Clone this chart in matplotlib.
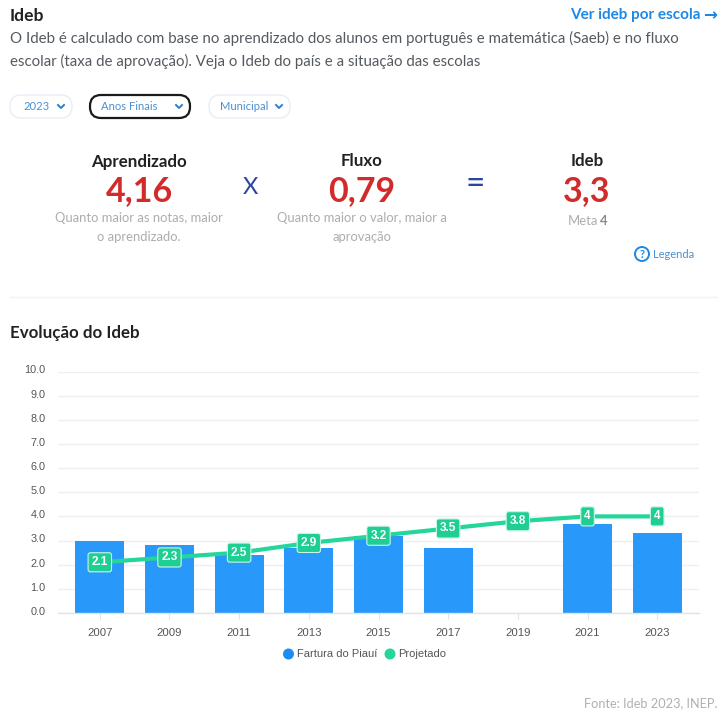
import matplotlib
matplotlib.use('Agg')
import matplotlib.pyplot as plt
from matplotlib.patches import FancyBboxPatch, Circle
from matplotlib.transforms import ScaledTranslation

# chart data
years = ['2007', '2009', '2011', '2013', '2015', '2017', '2019', '2021', '2023']
ideb = [3.0, 2.8, 2.4, 2.7, 3.2, 2.7, None, 3.7, 3.3]
projetado = [2.1, 2.3, 2.5, 2.9, 3.2, 3.5, 3.8, 4.0, 4.0]
projetado_labels = ['2.1', '2.3', '2.5', '2.9', '3.2', '3.5', '3.8', '4', '4']
y_ticks = [0, 1, 2, 3, 4, 5, 6, 7, 8, 9, 10]

# summary block
summary_titles = ['Aprendizado', 'Fluxo', 'Ideb']
summary_values = ['4,16', '0,79', '3,3']
filters = ['2023', 'Anos Finais', 'Municipal']

BLUE = '#2898fa'
GREEN = '#24d69a'
LINK = '#1e88e5'
RED = '#d22b2b'
NAVY = '#2b479c'
GREY = '#adadad'
TEXT = '#555a60'

W, H = 718, 711
plt.rcParams['font.family'] = ['Lato', 'DejaVu Sans']
fig = plt.figure(figsize=(W / 100, H / 100), dpi=100, facecolor='white')

# overlay in pixel coordinates for the page around the chart
page = fig.add_axes([0, 0, 1, 1])
page.set_xlim(0, W)
page.set_ylim(H, 0)
page.axis('off')

page.text(10, 16, 'Ideb', fontsize=12.6, fontweight='bold', color='#222222', va='center')
page.text(701, 15, 'Ver ideb por escola', fontsize=11, fontweight='bold', color=LINK, va='center', ha='right')
page.text(717, 15, '→', fontsize=12, fontweight='bold', color=LINK, va='center', ha='right', family='DejaVu Sans')
page.text(10, 38, 'O Ideb é calculado com base no aprendizado dos alunos em português e matemática (Saeb) e no fluxo',
          fontsize=10.78, color=TEXT, va='center')
page.text(10, 61, 'escolar (taxa de aprovação). Veja o Ideb do país e a situação das escolas',
          fontsize=10.78, color=TEXT, va='center')

# dropdowns
boxes = [(10, 72), (90, 190), (209, 290)]
text_pad = [13, 11, 11]
for (x0, x1), name, pad in zip(boxes, filters, text_pad):
    active = name == 'Anos Finais'
    page.add_patch(FancyBboxPatch((x0 + 11, 95 + 11), x1 - x0 - 22, 1, boxstyle='round,pad=11,rounding_size=11',
                                  fc='white', ec='#1a1a1a' if active else '#e6eef6', lw=1.6 if active else 1))
    page.text(x0 + pad, 106.5, name, fontsize=8.1, color='#4a90d0', va='center')
    page.plot([x1 - 14, x1 - 11, x1 - 8], [105, 108, 105], color='#2a7fd0', lw=1.4)

# formula row
centres = [139, 362, 587]
notes = [('Quanto maior as notas, maior', 'o aprendizado.'), ('Quanto maior o valor, maior a', 'aprovação'), ('', '')]
for cx, title, val, note in zip(centres, summary_titles, summary_values, notes):
    page.text(cx, 161.5, title, fontsize=12.2, fontweight='bold', color='#222222', ha='center', va='center')
    page.text(cx, 191, val, fontsize=24.5, fontweight='bold', color=RED, ha='center', va='center')
    page.text(cx, 218, note[0], fontsize=9.4, color=GREY, ha='center', va='center')
    page.text(cx, 237, note[1], fontsize=9.4, color=GREY, ha='center', va='center')
page.text(568, 221, 'Meta', fontsize=9.4, color=GREY, va='center')
page.text(600, 221, '4', fontsize=9.4, fontweight='bold', color='#8a8a8a', va='center')
page.text(250, 187, 'X', fontsize=17, color=NAVY, ha='center', va='center')
page.text(475, 184, '=', fontsize=24, color=NAVY, ha='center', va='center')

page.add_patch(Circle((642, 254), 7, fc='white', ec=LINK, lw=1.4))
page.text(642, 254, '?', fontsize=8, fontweight='bold', color=LINK, ha='center', va='center')
page.text(653, 254, 'Legenda', fontsize=8, color='#4a90d0', va='center')

page.plot([10, 718], [297, 297], color='#f2f2f2', lw=1)
page.text(10, 333, 'Evolução do Ideb', fontsize=12.2, fontweight='bold', color='#222222', va='center')
page.text(717, 703, 'Fonte: Ideb 2023, INEP.', fontsize=9.2, color='#b0b0b0', ha='right', va='center')

# chart axes, x 58-699 px and y 372-613 px
ax = fig.add_axes([58 / W, 1 - 613 / H, (699 - 58) / W, (613 - 371.5) / H])
ax.patch.set_alpha(0)
xs = list(range(len(years)))
bar_x = [x for x, v in zip(xs, ideb) if v is not None]
bar_h = [v for v in ideb if v is not None]
ax.bar(bar_x, bar_h, width=0.7, color=BLUE, zorder=2)
ax.plot(xs, projetado, color=GREEN, lw=3, zorder=3, solid_capstyle='round')
for x, v, lab in zip(xs, projetado, projetado_labels):
    ax.text(x, v, lab, fontsize=8.5, fontweight='bold', color='white', ha='center', va='center', family='Liberation Sans', zorder=4,
            bbox=dict(boxstyle='round,pad=0.3,rounding_size=0.2', fc='#1fce92', ec='#c9f5e5', lw=0.8))
ax.set_xlim(-0.6, 8.6)
ax.set_ylim(0, 10)
ax.set_xticks(xs)
ax.set_xticklabels(years)
ax.set_yticks(y_ticks)
ax.set_yticklabels(['%.1f' % t for t in y_ticks])
ax.grid(axis='y', color='#efefef', lw=1, zorder=0)
ax.set_axisbelow(True)
for s in ['top', 'right', 'left']:
    ax.spines[s].set_visible(False)
ax.spines['bottom'].set_color('#dfe3ea')
ax.spines['bottom'].set_linewidth(1)
ax.tick_params(axis='y', length=0, pad=9, labelsize=7.8, labelcolor='#555555')
ax.tick_params(axis='x', length=4, color='#dfe3ea', pad=7, labelsize=8.2, labelcolor='#555555')
for lab in ax.get_xticklabels() + ax.get_yticklabels():
    lab.set_family('Liberation Sans')
# y labels sit slightly above their gridlines in the original
shift = ScaledTranslation(0, 1.5 / 72, fig.dpi_scale_trans)
for lab in ax.get_yticklabels():
    lab.set_transform(lab.get_transform() + shift)

# legend
page.add_patch(Circle((288.5, 654), 5.5, fc='#1e8cf5', ec='none'))
page.text(297, 654, 'Fartura do Piauí', fontsize=8, color='#555555', va='center', family='Liberation Sans')
page.add_patch(Circle((390, 654), 5.5, fc=GREEN, ec='none'))
page.text(398, 654, 'Projetado', fontsize=8, color='#555555', va='center', family='Liberation Sans')

fig.savefig('out.png', dpi=100, facecolor='white')
